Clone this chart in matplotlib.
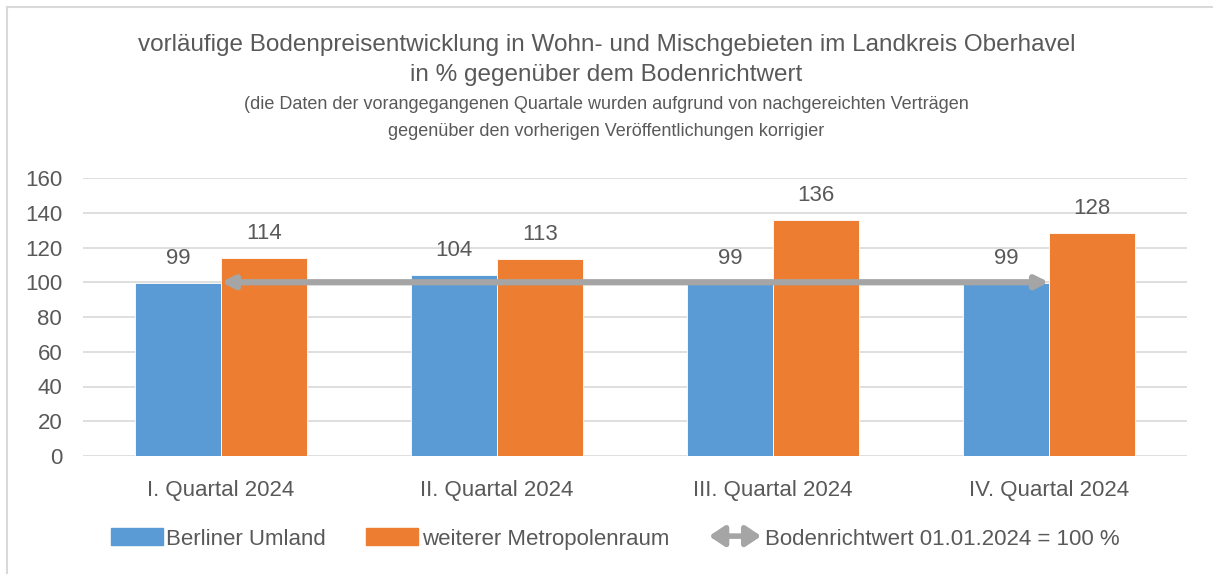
import numpy as np
import matplotlib
matplotlib.use("Agg")
import matplotlib.pyplot as plt
from matplotlib.patches import Patch, FancyArrowPatch
from matplotlib.legend_handler import HandlerBase

quarters = ["I. Quartal 2024", "II. Quartal 2024", "III. Quartal 2024", "IV. Quartal 2024"]
berliner_umland = [99.4, 104.4, 99.4, 99.4]
metropolenraum = [114.0, 113.4, 135.8, 128.3]
richtwert = 100
series_names = ["Berliner Umland", "weiterer Metropolenraum", "Bodenrichtwert 01.01.2024 = 100 %"]

plt.rcParams["font.family"] = ["Liberation Sans", "DejaVu Sans"]

text_col = "#595959"
blue = "#5B9BD5"
orange = "#ED7D31"
grey = "#A5A5A5"


class ArrowHandler(HandlerBase):
    def create_artists(self, legend, orig_handle, xdescent, ydescent, width, height, fontsize, trans):
        a = FancyArrowPatch((0, height / 2), (width, height / 2),
                            arrowstyle="<|-|>,head_length=0.9,head_width=0.6",
                            mutation_scale=10, lw=4, color=grey, transform=trans,
                            shrinkA=0, shrinkB=0)
        return [a]


fig = plt.figure(figsize=(12.13, 5.74), dpi=100)
ax = fig.add_axes([83 / 1213, 1 - 456 / 574, 1104 / 1213, 278 / 574])

x = np.arange(len(quarters))
w = 0.31
b1 = ax.bar(x - w / 2, berliner_umland, w, color=blue, edgecolor="white", linewidth=0.6, zorder=2)
b2 = ax.bar(x + w / 2, metropolenraum, w, color=orange, edgecolor="white", linewidth=0.6, zorder=2)

for bars in (b1, b2):
    for r in bars:
        ax.annotate(f"{r.get_height():.0f}", (r.get_x() + r.get_width() / 2, r.get_height()),
                    xytext=(0, 10), textcoords="offset points", ha="center", va="bottom",
                    fontsize=16, color=text_col)

ax.annotate("", xy=(x[0], richtwert), xytext=(x[-1], richtwert),
            arrowprops=dict(arrowstyle="<|-|>", color=grey, lw=4.5, mutation_scale=18,
                            shrinkA=0, shrinkB=0), zorder=3)

ax.set_xlim(-0.5, 3.5)
ax.set_ylim(0, 160)
ax.set_yticks(range(0, 161, 20))
ax.set_xticks(x)
ax.set_xticklabels(quarters)
ax.tick_params(axis="both", length=0, labelsize=16, labelcolor=text_col)
ax.tick_params(axis="x", pad=17)
ax.tick_params(axis="y", pad=15)
ax.grid(axis="y", color="#D9D9D9", linewidth=1.2, zorder=0)
for s in ax.spines.values():
    s.set_visible(False)

fig.text(0.5, 1 - 45 / 574, "vorläufige Bodenpreisentwicklung in Wohn- und Mischgebieten im Landkreis Oberhavel",
         ha="center", va="center", fontsize=17.5, color=text_col)
fig.text(0.5, 1 - 75 / 574, "in % gegenüber dem Bodenrichtwert",
         ha="center", va="center", fontsize=17.5, color=text_col)
fig.text(0.5, 1 - 104 / 574, "(die Daten der vorangegangenen Quartale wurden aufgrund von nachgereichten Verträgen",
         ha="center", va="center", fontsize=13, color=text_col)
fig.text(0.5, 1 - 131 / 574, "gegenüber den vorherigen Veröffentlichungen korrigier",
         ha="center", va="center", fontsize=13, color=text_col)

handles = [Patch(color=blue), Patch(color=orange), object()]
leg = fig.legend(handles, series_names, loc="center", bbox_to_anchor=(0.507, 1 - 539 / 574), ncol=3,
                 frameon=False, fontsize=16, labelcolor=text_col, handlelength=2.35, handleheight=0.8,
                 handletextpad=0.15, columnspacing=1.8, handler_map={object: ArrowHandler()})

fig.add_artist(plt.Line2D([7 / 1213, 7 / 1213], [0, 1 - 7 / 574], color="#D9D9D9", lw=1.5))
fig.add_artist(plt.Line2D([7 / 1213, 1], [1 - 7 / 574, 1 - 7 / 574], color="#D9D9D9", lw=1.5))

fig.savefig("out.png", dpi=100)
